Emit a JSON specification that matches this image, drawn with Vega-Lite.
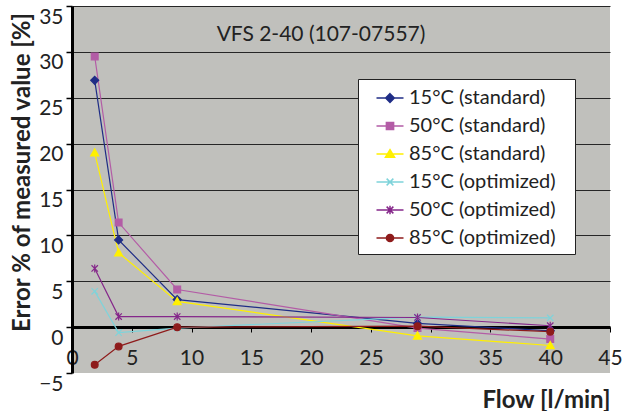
{
  "$schema": "https://vega.github.io/schema/vega-lite/v6.json",
  "autosize": "none",
  "width": 538,
  "height": 367,
  "padding": {"left": 72, "top": 6, "right": 15, "bottom": 38},
  "background": "white",
  "title": {
    "text": "VFS 2-40 (107-07557)",
    "anchor": "middle",
    "frame": "group",
    "offset": 0,
    "baseline": "alphabetic",
    "dx": -20,
    "dy": 57,
    "font": "Lato",
    "fontSize": 21,
    "fontWeight": "normal",
    "color": "#222222"
  },
  "config": {
    "font": "Lato",
    "view": {"fill": "#C0C0BC", "stroke": null},
    "legend": {
      "orient": "none",
      "legendX": 286,
      "legendY": 73,
      "fillColor": "white",
      "strokeColor": "#222222",
      "padding": 6,
      "symbolOffset": 13,
      "labelOffset": 6,
      "labelFont": "Lato",
      "labelFontSize": 20,
      "labelColor": "#222222",
      "rowPadding": 5,
      "symbolStrokeWidth": 1.5,
      "symbolOpacity": 1,
      "symbolSize": 576,
      "titleOrient": "right",
      "titlePadding": 13,
      "titleFontSize": 20,
      "titleColor": "white"
    }
  },
  "data": {
    "values": [
      {"series": "15°C (standard)", "flow": 1.9, "error": 26.9},
      {"series": "15°C (standard)", "flow": 3.9, "error": 9.5},
      {"series": "15°C (standard)", "flow": 8.8, "error": 3.0},
      {"series": "15°C (standard)", "flow": 28.9, "error": 0.4},
      {"series": "15°C (standard)", "flow": 40, "error": -0.4},
      {"series": "50°C (standard)", "flow": 1.9, "error": 29.5},
      {"series": "50°C (standard)", "flow": 3.9, "error": 11.4},
      {"series": "50°C (standard)", "flow": 8.8, "error": 4.1},
      {"series": "50°C (standard)", "flow": 28.9, "error": -0.1},
      {"series": "50°C (standard)", "flow": 40, "error": -1.3},
      {"series": "85°C (standard)", "flow": 1.9, "error": 19.0},
      {"series": "85°C (standard)", "flow": 3.9, "error": 8.1},
      {"series": "85°C (standard)", "flow": 8.8, "error": 2.8},
      {"series": "85°C (standard)", "flow": 28.9, "error": -0.95},
      {"series": "85°C (standard)", "flow": 40, "error": -2.0},
      {"series": "15°C (optimized)", "flow": 1.9, "error": 3.9},
      {"series": "15°C (optimized)", "flow": 3.9, "error": -0.6},
      {"series": "15°C (optimized)", "flow": 8.8, "error": -0.1},
      {"series": "15°C (optimized)", "flow": 28.9, "error": 1.1},
      {"series": "15°C (optimized)", "flow": 40, "error": 1.0},
      {"series": "50°C (optimized)", "flow": 1.9, "error": 6.4},
      {"series": "50°C (optimized)", "flow": 3.9, "error": 1.15},
      {"series": "50°C (optimized)", "flow": 8.8, "error": 1.15},
      {"series": "50°C (optimized)", "flow": 28.9, "error": 1.05},
      {"series": "50°C (optimized)", "flow": 40, "error": 0.15},
      {"series": "85°C (optimized)", "flow": 1.9, "error": -4.1},
      {"series": "85°C (optimized)", "flow": 3.9, "error": -2.1},
      {"series": "85°C (optimized)", "flow": 8.8, "error": 0.0},
      {"series": "85°C (optimized)", "flow": 28.9, "error": 0.1},
      {"series": "85°C (optimized)", "flow": 40, "error": -0.5}
    ]
  },
  "encoding": {
    "x": {
      "field": "flow",
      "type": "quantitative",
      "scale": {"domain": [0, 45], "nice": false, "zero": false},
      "axis": {
        "title": "Flow [l/min]",
        "values": [0, 5, 10, 15, 20, 25, 30, 35, 40, 45],
        "offset": -46,
        "grid": false,
        "domainColor": "#000000",
        "domainWidth": 3,
        "tickColor": "#000000",
        "tickWidth": 1,
        "tickSize": 5,
        "labelFlush": false,
        "labelFont": "Lato",
        "labelFontSize": 21,
        "labelColor": "#222222",
        "labelPadding": 15,
        "titleFont": "Lato",
        "titleFontSize": 24,
        "titleFontWeight": "bold",
        "titleColor": "#222222",
        "titleAnchor": "end",
        "titleAlign": "right",
        "titleBaseline": "alphabetic",
        "titleX": 538,
        "titleY": 80
      }
    },
    "y": {
      "field": "error",
      "type": "quantitative",
      "scale": {"domain": [-5, 35], "nice": false, "zero": false},
      "axis": {
        "title": "Error % of measured value [%]",
        "values": [-5, 0, 5, 10, 15, 20, 25, 30, 35],
        "grid": true,
        "gridColor": {"condition": {"test": "datum.value === -5", "value": "transparent"}, "value": "#262626"},
        "gridWidth": 1,
        "gridOpacity": 1,
        "domainColor": "#000000",
        "domainWidth": 3,
        "tickColor": "#000000",
        "tickWidth": 1.5,
        "tickSize": 6,
        "labelFont": "Lato",
        "labelFontSize": 21,
        "labelColor": "#222222",
        "labelPadding": 3,
        "labelBaseline": "top",
        "labelOffset": 0,
        "titleFont": "Lato",
        "titleFontSize": 24,
        "titleFontWeight": "bold",
        "titleColor": "#222222",
        "titleAngle": -90,
        "titleAlign": "center",
        "titleBaseline": "alphabetic",
        "titleX": -43,
        "titleY": 166
      }
    }
  },
  "layer": [
    {
      "mark": {"type": "line", "strokeWidth": 1.2},
      "encoding": {
        "color": {
          "field": "series",
          "type": "nominal",
          "scale": {
            "domain": ["15°C (standard)", "50°C (standard)", "85°C (standard)", "15°C (optimized)", "50°C (optimized)", "85°C (optimized)"],
            "range": ["#1F2D86", "#B35CA6", "#FFF000", "#7FD3DA", "#85278A", "#8E1B1B"]
          },
          "legend": null
        },
        "detail": {"field": "series", "type": "nominal"}
      }
    },
    {
      "mark": {"type": "point", "filled": true, "size": 64, "strokeWidth": 1.2, "opacity": 1},
      "encoding": {
        "color": {
          "field": "series",
          "type": "nominal",
          "scale": {
            "domain": ["15°C (standard)", "50°C (standard)", "85°C (standard)", "15°C (optimized)", "50°C (optimized)", "85°C (optimized)"],
            "range": ["#1F2D86", "#B35CA6", "#FFF000", "#7FD3DA", "#85278A", "#8E1B1B"]
          },
          "legend": null
        },
        "stroke": {
          "field": "series",
          "type": "nominal",
          "scale": {
            "domain": ["15°C (standard)", "50°C (standard)", "85°C (standard)", "15°C (optimized)", "50°C (optimized)", "85°C (optimized)"],
            "range": ["#1F2D86", "#B35CA6", "#FFF000", "#7FD3DA", "#85278A", "#8E1B1B"]
          },
          "legend": null
        },
        "shape": {
          "field": "series",
          "type": "nominal",
          "scale": {
            "domain": ["15°C (standard)", "50°C (standard)", "85°C (standard)", "15°C (optimized)", "50°C (optimized)", "85°C (optimized)"],
            "range": [
              "M0,-1L1,0L0,1L-1,0Z",
              "M-0.85,-0.85H0.85V0.85H-0.85Z",
              "M0,-1L1,0.8H-1Z",
              "M-0.8,-0.8L0.8,0.8M-0.8,0.8L0.8,-0.8",
              "M-0.8,-0.8L0.8,0.8M-0.8,0.8L0.8,-0.8M0,-1V1",
              "M0.85,0A0.85,0.85,0,1,1,-0.85,0A0.85,0.85,0,1,1,0.85,0Z"
            ]
          },
          "legend": null
        }
      }
    },
    {
      "mark": {"type": "point", "filled": true, "opacity": 0, "size": 576},
      "encoding": {
        "color": {
          "field": "series",
          "type": "nominal",
          "title": "\u00a0",
          "scale": {
            "domain": ["15°C (standard)", "50°C (standard)", "85°C (standard)", "15°C (optimized)", "50°C (optimized)", "85°C (optimized)"],
            "range": ["#1F2D86", "#B35CA6", "#FFF000", "#7FD3DA", "#85278A", "#8E1B1B"]
          }
        },
        "stroke": {
          "field": "series",
          "type": "nominal",
          "title": "\u00a0",
          "scale": {
            "domain": ["15°C (standard)", "50°C (standard)", "85°C (standard)", "15°C (optimized)", "50°C (optimized)", "85°C (optimized)"],
            "range": ["#1F2D86", "#B35CA6", "#FFF000", "#7FD3DA", "#85278A", "#8E1B1B"]
          }
        },
        "shape": {
          "field": "series",
          "type": "nominal",
          "title": "\u00a0",
          "scale": {
            "domain": ["15°C (standard)", "50°C (standard)", "85°C (standard)", "15°C (optimized)", "50°C (optimized)", "85°C (optimized)"],
            "range": [
              "M-1.125,0H1.125M0,-0.36L0.36,0L0,0.36L-0.36,0Z",
              "M-1.125,0H1.125M-0.3,-0.3H0.3V0.3H-0.3Z",
              "M-1.125,0H1.125M0,-0.36L0.38,0.28H-0.38Z",
              "M-1.125,0H1.125M-0.28,-0.28L0.28,0.28M-0.28,0.28L0.28,-0.28",
              "M-1.125,0H1.125M-0.28,-0.28L0.28,0.28M-0.28,0.28L0.28,-0.28M0,-0.36V0.36",
              "M-1.125,0H1.125M0.3,0A0.3,0.3,0,1,1,-0.3,0A0.3,0.3,0,1,1,0.3,0Z"
            ]
          }
        }
      }
    }
  ],
  "resolve": {
    "scale": {"color": "independent", "stroke": "independent", "shape": "independent"},
    "legend": {"color": "independent", "stroke": "independent", "shape": "independent"}
  }
}
